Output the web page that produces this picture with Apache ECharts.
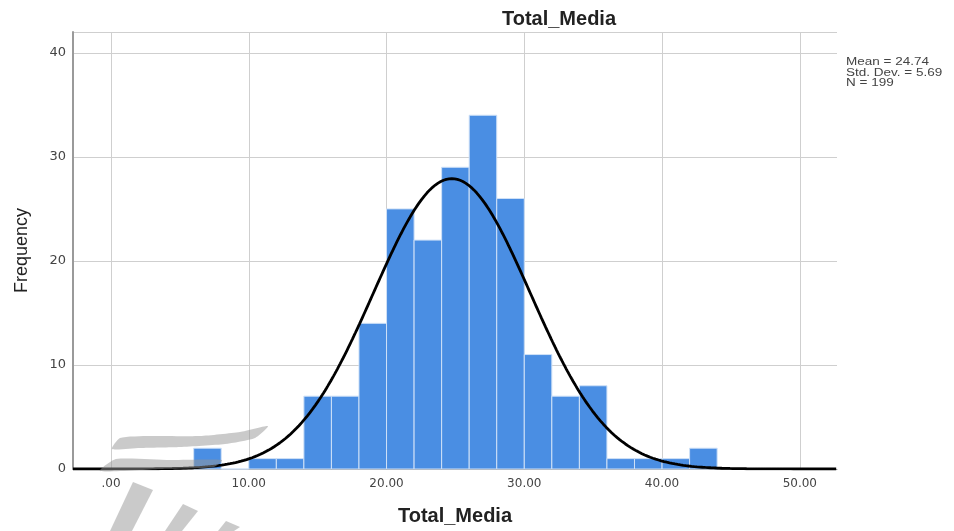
<!DOCTYPE html>
<html>
<head>
<meta charset="utf-8">
<script src="https://cdn.jsdelivr.net/npm/echarts@6/dist/echarts.min.js"></script>
<style>
  html, body { margin: 0; padding: 0; background: #ffffff; }
  #chart { width: 954px; height: 531px; }
</style>
</head>
<body>
<div id="chart"></div>
<script>
// Histogram bins of Total_Media (lower edge, upper edge) and their counts
const binStarts = [6, 8, 10, 12, 14, 16, 18, 20, 22, 24, 26, 28, 30, 32, 34, 36, 38, 40, 42];
const binEnds   = [8, 10, 12, 14, 16, 18, 20, 22, 24, 26, 28, 30, 32, 34, 36, 38, 40, 42, 44];
const counts    = [2, 0, 1, 1, 7, 7, 14, 25, 22, 29, 34, 26, 11, 7, 8, 1, 1, 1, 2];

// Descriptive statistics shown beside the plot
const statMean = 24.74;
const statSd = 5.69;
const statN = 199;

// Axis tick values
const xTicks = [0, 10, 20, 30, 40, 50];
const yTicks = [0, 10, 20, 30, 40];

const xMin = -2.76;
const xMax = 52.7;
const binWidth = 2;

// Fitted normal curve scaled to frequency: N * binWidth * pdf(x)
const curve = [];
for (let x = xMin; x <= xMax + 1e-9; x += 0.1) {
  const z = (x - statMean) / statSd;
  const y = statN * binWidth * Math.exp(-0.5 * z * z) / (statSd * Math.sqrt(2 * Math.PI));
  curve.push([x, y]);
}

const histData = binStarts.map((s, i) => [s, binEnds[i], counts[i]]);

const chart = echarts.init(document.getElementById('chart'), null, { renderer: 'canvas' });

const labelFont = '"Liberation Sans", Arial, sans-serif';
const tickFont = '"DejaVu Sans", "Liberation Sans", sans-serif';
const logoFill = 'rgba(150,150,150,0.5)';

chart.setOption({
  animation: false,
  backgroundColor: '#ffffff',
  title: {
    text: 'Total_Media',
    left: 554,
    top: 4,
    textAlign: 'center',
    textStyle: { fontFamily: labelFont, fontSize: 20, fontWeight: 'bold', color: '#222' }
  },
  grid: { left: 73, right: 117, top: 32, bottom: 57, containLabel: false },
  xAxis: {
    type: 'value',
    min: xMin,
    max: xMax,
    name: 'Total_Media',
    nameLocation: 'middle',
    nameGap: 37,
    nameTextStyle: { fontFamily: labelFont, fontSize: 20, fontWeight: 'bold', color: '#222' },
    axisLine: { show: true, lineStyle: { color: '#999', width: 1 } },
    axisTick: { show: false, customValues: xTicks },
    axisLabel: {
      customValues: xTicks,
      margin: 9,
      color: '#444',
      fontFamily: tickFont,
      fontSize: 12,
      formatter: v => (v === 0 ? '.00' : v.toFixed(2))
    },
    splitLine: { show: true, lineStyle: { color: '#cfcfcf', width: 1 } }
  },
  yAxis: {
    type: 'value',
    min: 0,
    max: 42,
    interval: 10,
    name: 'Frequency',
    nameLocation: 'middle',
    nameGap: 42,
    nameTextStyle: { fontFamily: labelFont, fontSize: 18, color: '#222' },
    axisLine: { show: true, onZero: false, lineStyle: { color: '#9a9a9a', width: 2 } },
    axisTick: { show: false },
    axisLabel: { color: '#444', fontFamily: tickFont, fontSize: 13, margin: 7,
      formatter: v => (yTicks.indexOf(v) >= 0 ? String(v) : '') },
    splitLine: { show: true, lineStyle: { color: '#cfcfcf', width: 1 } }
  },
  series: [
    {
      type: 'custom',
      name: 'Frequency',
      data: histData,
      encode: { x: [0, 1], y: 2 },
      renderItem: function (params, api) {
        const lo = api.coord([api.value(0), 0]);
        const hi = api.coord([api.value(1), api.value(2)]);
        return {
          type: 'rect',
          shape: { x: lo[0], y: hi[1], width: hi[0] - lo[0], height: lo[1] - hi[1] },
          style: { fill: '#4a8ee3', stroke: '#cfe1f7', lineWidth: 1 }
        };
      },
      z: 2
    },
    {
      type: 'line',
      name: 'Normal',
      data: curve,
      showSymbol: false,
      smooth: false,
      lineStyle: { color: '#000000', width: 2.8 },
      z: 3
    }
  ],
  graphic: [
    {
      type: 'text',
      x: 846,
      y: 57,
      scaleX: 1.35,
      style: {
        text: 'Mean = ' + statMean.toFixed(2) + '\nStd. Dev. = ' + statSd.toFixed(2) + '\nN = ' + statN,
        font: '10px "Liberation Sans", Arial, sans-serif',
        lineHeight: 10.5,
        fill: '#444'
      }
    },
    // faint logo mark in the lower-left corner
    { type: 'polygon', silent: true, z: 10,
      shape: { points: [[112, 449], [120, 438], [150, 436], [200, 436], [240, 432], [268, 426], [255, 438], [225, 444], [180, 447], [140, 448]], smooth: 0.2 },
      style: { fill: logoFill } },
    { type: 'polygon', silent: true, z: 10,
      shape: { points: [[100, 471], [116, 459], [170, 460], [222, 460], [214, 467], [160, 469]], smooth: 0.2 },
      style: { fill: logoFill } },
    { type: 'polygon', silent: true, z: 10,
      shape: { points: [[133, 482], [153, 490], [132, 531], [110, 531]] },
      style: { fill: logoFill } },
    { type: 'polygon', silent: true, z: 10,
      shape: { points: [[183, 504], [198, 511], [182, 531], [165, 531]] },
      style: { fill: logoFill } },
    { type: 'polygon', silent: true, z: 10,
      shape: { points: [[226, 521], [240, 527], [234, 531], [218, 531]] },
      style: { fill: logoFill } }
  ]
});
</script>
</body>
</html>
